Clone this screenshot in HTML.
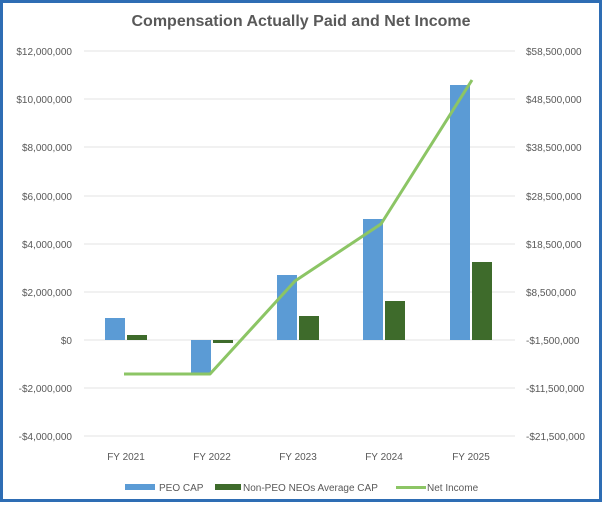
<!DOCTYPE html>
<html><head><meta charset="utf-8"><style>
html,body{margin:0;padding:0;background:#fff}
</style></head><body>
<svg width="602" height="502" xmlns="http://www.w3.org/2000/svg" font-family="Liberation Sans, sans-serif">
<rect x="1.5" y="1.5" width="599" height="499" fill="#fff" stroke="#2e6db4" stroke-width="3"/>
<text x="301" y="26" text-anchor="middle" font-size="16" font-weight="bold" fill="#595959">Compensation Actually Paid and Net Income</text>
<g stroke="#e3e3e3" stroke-width="1">
<line x1="84" x2="515" y1="51" y2="51"/><line x1="84" x2="515" y1="99" y2="99"/>
<line x1="84" x2="515" y1="147" y2="147"/><line x1="84" x2="515" y1="196" y2="196"/>
<line x1="84" x2="515" y1="244" y2="244"/><line x1="84" x2="515" y1="292" y2="292"/>
<line x1="84" x2="515" y1="340" y2="340"/><line x1="84" x2="515" y1="388" y2="388"/>
<line x1="84" x2="515" y1="436" y2="436"/>
</g>
<g font-size="10" fill="#595959" text-anchor="end">
<text x="72" y="55">$12,000,000</text><text x="72" y="103">$10,000,000</text>
<text x="72" y="151">$8,000,000</text><text x="72" y="200">$6,000,000</text>
<text x="72" y="248">$4,000,000</text><text x="72" y="296">$2,000,000</text>
<text x="72" y="344">$0</text><text x="72" y="392">-$2,000,000</text>
<text x="72" y="440">-$4,000,000</text>
</g>
<g font-size="10" fill="#595959" text-anchor="start">
<text x="526" y="55">$58,500,000</text><text x="526" y="103">$48,500,000</text>
<text x="526" y="151">$38,500,000</text><text x="526" y="200">$28,500,000</text>
<text x="526" y="248">$18,500,000</text><text x="526" y="296">$8,500,000</text>
<text x="526" y="344">-$1,500,000</text><text x="526" y="392">-$11,500,000</text>
<text x="526" y="440">-$21,500,000</text>
</g>
<g fill="#5b9bd5">
<rect x="105" y="318" width="20" height="22"/>
<rect x="191" y="340" width="20" height="33"/>
<rect x="277" y="275" width="20" height="65"/>
<rect x="363" y="219" width="20" height="121"/>
<rect x="450" y="85" width="20" height="255"/>
</g>
<g fill="#3e6b2b">
<rect x="127" y="335" width="20" height="5"/>
<rect x="213" y="340" width="20" height="3"/>
<rect x="299" y="316" width="20" height="24"/>
<rect x="385" y="301" width="20" height="39"/>
<rect x="472" y="262" width="20" height="78"/>
</g>
<polyline points="124,374 210,374 295,281 381,224 472,80" fill="none" stroke="#8cc565" stroke-width="3" stroke-linejoin="round"/>
<g font-size="10" fill="#595959" text-anchor="middle">
<text x="126" y="460">FY 2021</text><text x="212" y="460">FY 2022</text>
<text x="298" y="460">FY 2023</text><text x="384" y="460">FY 2024</text>
<text x="471" y="460">FY 2025</text>
</g>
<g font-size="10" fill="#595959">
<rect x="125" y="484" width="30" height="6" fill="#5b9bd5"/><text x="159" y="491">PEO CAP</text>
<rect x="215" y="484" width="26" height="6" fill="#3e6b2b"/><text x="243" y="491">Non-PEO NEOs Average CAP</text>
<rect x="396" y="486" width="30" height="3" fill="#8cc565"/><text x="427" y="491">Net Income</text>
</g>
</svg>
</body></html>
